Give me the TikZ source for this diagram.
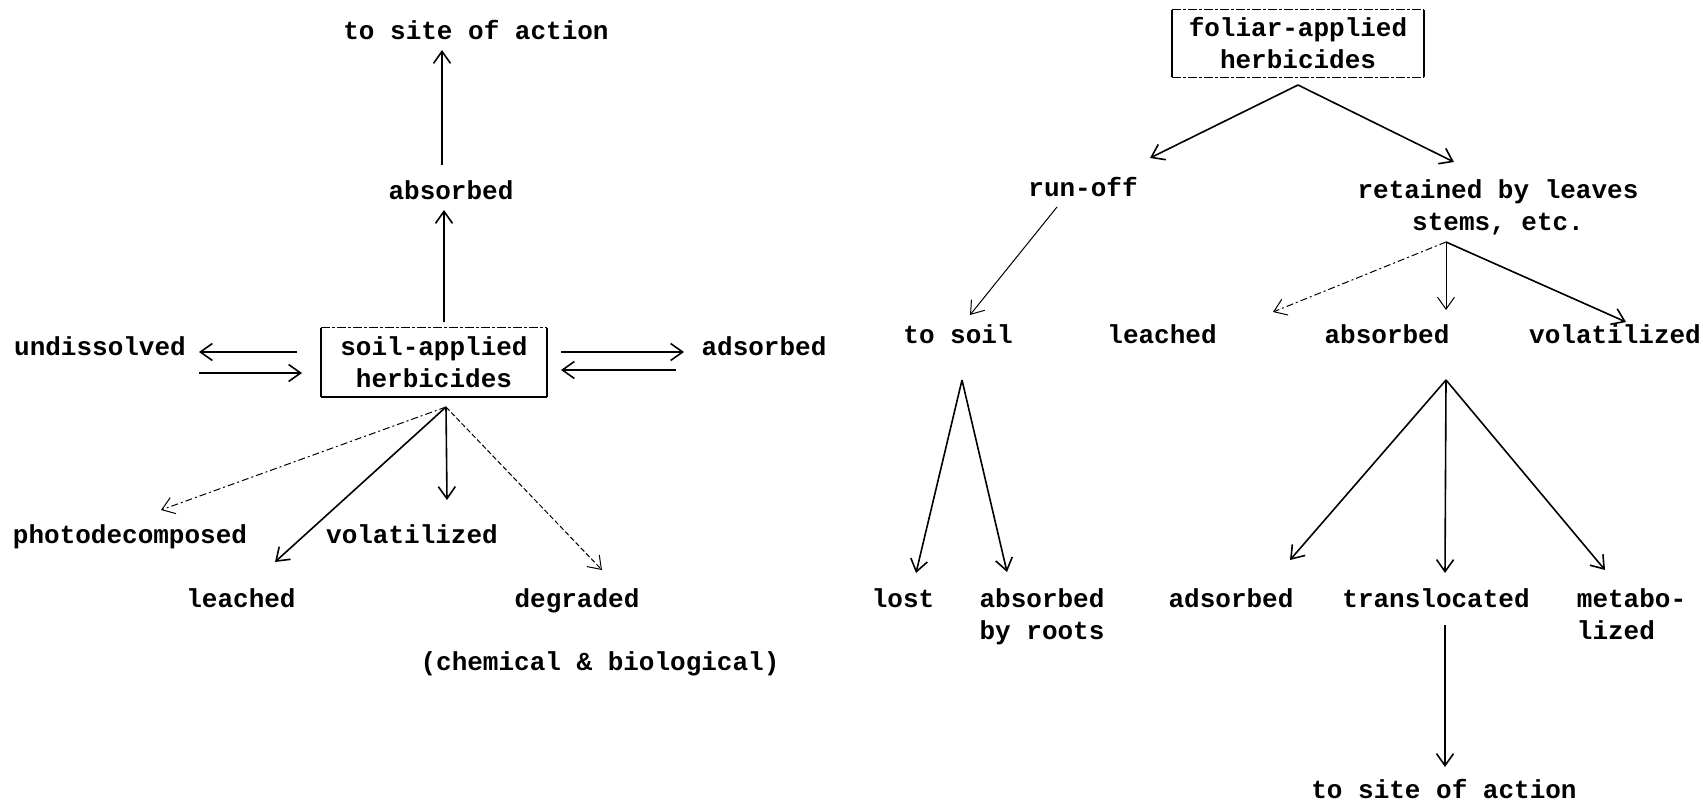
\documentclass[tikz,border=0pt]{standalone}
\usepackage{fontspec}
\setmonofont{Liberation Mono}
\usetikzlibrary{arrows.meta}
\tikzset{
  lbl/.style={font=\ttfamily\bfseries\fontsize{26}{32}\selectfont, inner sep=0pt},
  arr/.style={-{Straight Barb[length=12pt,width=17pt]}, line width=1.6pt},
  thinarr/.style={arr, line width=1pt},
  dasharr/.style={thinarr, dash pattern=on 7pt off 3pt on 2pt off 3pt},
  dottarr/.style={thinarr, dash pattern=on 5pt off 2.5pt},
  boxside/.style={line width=1.8pt},
  boxedge/.style={line width=1.2pt, dash pattern=on 9pt off 2pt on 3pt off 2pt},
}
\begin{document}
\begin{tikzpicture}[x=1pt,y=-1pt]
\useasboundingbox (0,0) rectangle (1703,805);
% ---------------- left diagram ----------------
\node[lbl,anchor=base] (site1) at (476,40) {to site of action};
\node[lbl,anchor=base] (abs1) at (451,200) {absorbed};
\node[lbl,align=center,minimum width=226pt,minimum height=69pt] (sb) at (434,362.5) {soil-applied\\herbicides};
\draw[boxside] (sb.north west) -- (sb.south west);
\draw[boxside] (sb.north east) -- (sb.south east);
\draw[boxedge] (sb.north west) -- (sb.north east);
\draw[boxside, line width=2.4pt] (sb.south west) -- (sb.south east);
\node[lbl,anchor=base] (und) at (100,355) {undissolved};
\node[lbl,anchor=base] (ads1) at (764,355) {adsorbed};
\node[lbl,anchor=base] (pd) at (130,543) {photodecomposed};
\node[lbl,anchor=base] (vol1) at (412,543) {volatilized};
\node[lbl,anchor=base] (lea1) at (241,607) {leached};
\node[lbl,anchor=base] (deg) at (577,607) {degraded};
\node[lbl,anchor=base] (chem) at (600,670) {(chemical \& biological)};
\coordinate (sapex) at ([shift={(12,44.5)}]sb.center);

\draw[arr] ([shift={(10,-40.5)}]sb.center) -- ([shift={(-7,10)}]abs1.base);
\draw[arr] ([shift={(-9,-35)}]abs1.base) -- ([shift={(-34,10)}]site1.base);
\draw[arr] ([shift={(-137,-10.5)}]sb.center) -- ([shift={(99,-3)}]und.base);
\draw[arr] ([shift={(99,18)}]und.base) -- ([shift={(-132,10.5)}]sb.center);
\draw[arr] ([shift={(127,-10.5)}]sb.center) -- ([shift={(-80,-3)}]ads1.base);
\draw[arr] ([shift={(-88,15)}]ads1.base) -- ([shift={(127,7.5)}]sb.center);
\draw[dasharr] (sapex) -- ([shift={(31,-33)}]pd.base);
\draw[arr] (sapex) -- ([shift={(34,-45)}]lea1.base);
\draw[arr] (sapex) -- ([shift={(35,-43)}]vol1.base);
\draw[dottarr] (sapex) -- ([shift={(25,-37)}]deg.base);

% ---------------- right diagram ----------------
\node[lbl,align=center,minimum width=252pt,minimum height=67pt] (fb) at (1298,43.5) {foliar-applied\\herbicides};
\draw[boxside] (fb.north west) -- (fb.south west);
\draw[boxside] (fb.north east) -- (fb.south east);
\draw[boxedge] (fb.north west) -- (fb.north east);
\draw[boxedge] (fb.south west) -- (fb.south east);
\node[lbl,anchor=base] (ro) at (1083,197) {run-off};
\node[lbl,align=center] (ret) at (1498,207) {retained by leaves\\stems, etc.};
\node[lbl,anchor=base] (soil) at (958,343) {to soil};
\node[lbl,anchor=base] (lea2) at (1162,343) {leached};
\node[lbl,anchor=base] (abs2) at (1387,343) {absorbed};
\node[lbl,anchor=base] (vol2) at (1615,343) {volatilized};
\node[lbl,anchor=base] (lost) at (903,607) {lost};
\node[lbl,align=center] (abr) at (1042,617) {absorbed\\by roots};
\node[lbl,anchor=base] (ads2) at (1231,607) {adsorbed};
\node[lbl,anchor=base] (trl) at (1436,607) {translocated};
\node[lbl,align=left] (met) at (1631.5,614) {metabo-\\lized};
\node[lbl,anchor=base] (site2) at (1444,798) {to site of action};

\coordinate (fapex) at ([shift={(0,41.5)}]fb.center);
\coordinate (rapex) at ([shift={(-52,35)}]ret.center);
\coordinate (soapex) at ([shift={(4,37)}]soil.base);
\coordinate (abapex) at ([shift={(59,37)}]abs2.base);

\draw[arr] (fapex) -- ([shift={(67,-39)}]ro.base);
\draw[arr] (fapex) -- ([shift={(-44,-45)}]ret.center);
\draw[thinarr] ([shift={(-26,10)}]ro.base) -- ([shift={(12,-28)}]soil.base);
\draw[dasharr] (rapex) -- ([shift={(111,-31)}]lea2.base);
\draw[thinarr] (rapex) -- ([shift={(59,-33)}]abs2.base);
\draw[arr] (rapex) -- ([shift={(11,-21)}]vol2.base);
\draw[arr] (soapex) -- ([shift={(13,-34)}]lost.base);
\draw[arr] (soapex) -- ([shift={(-35,-45)}]abr.center);
\draw[arr] (abapex) -- ([shift={(59,-47)}]ads2.base);
\draw[arr] (abapex) -- ([shift={(9,-34)}]trl.base);
\draw[arr] (abapex) -- ([shift={(-26.5,-44)}]met.center);
\draw[arr] ([shift={(9,18)}]trl.base) -- ([shift={(1,-31)}]site2.base);
\end{tikzpicture}
\end{document}
